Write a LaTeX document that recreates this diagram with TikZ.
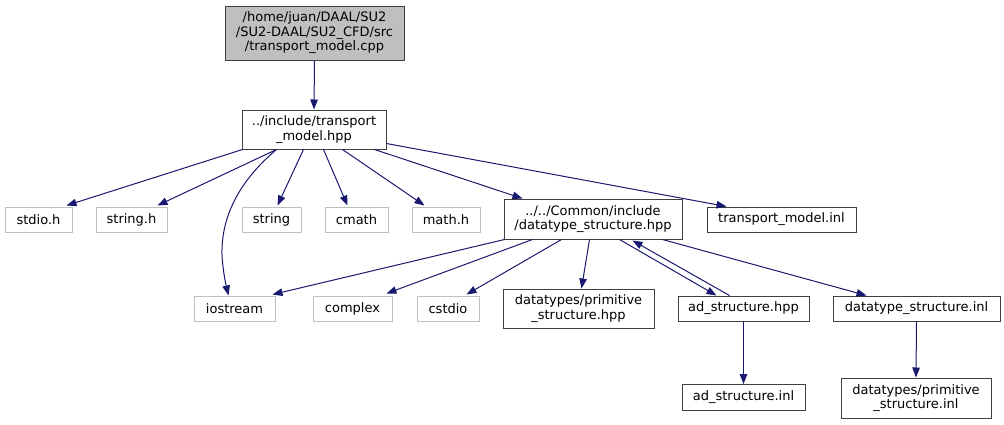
\documentclass[tikz,border=0pt]{standalone}
\usepackage{fontspec}
\setmainfont{DejaVu Sans}
\usetikzlibrary{arrows.meta,calc}
\definecolor{edgeblue}{HTML}{191970}
\definecolor{sysgray}{HTML}{BFBFBF}
\definecolor{boxdark}{HTML}{404040}
\tikzset{
  fbox/.style={draw=boxdark,line width=1pt,inner sep=0pt,align=center,font=\fontsize{13}{14.5}\selectfont},
  sysbox/.style={fbox,draw=sysgray},
  rootbox/.style={fbox,fill=sysgray},
  dep/.style={draw=edgeblue,line width=1pt,-{Triangle[length=10pt,width=7.5pt]}},
}
\begin{document}
\begin{tikzpicture}[x=1pt,y=-1pt]
\useasboundingbox (0,0) rectangle (1004,424);
\node[rootbox,minimum width=179pt,minimum height=54pt] (root) at (314.5,33) {/home/juan/DAAL/SU2\\/SU2-DAAL/SU2\_CFD/src\\/transport\_model.cpp};
\node[fbox,minimum width=144pt,minimum height=39pt] (tm) at (314,129.5) {../include/transport\\\_model.hpp};
\node[sysbox,minimum width=67pt,minimum height=25pt] (stdio) at (38.5,219.5) {stdio.h};
\node[sysbox,minimum width=71pt,minimum height=25pt] (stringh) at (131.5,219.5) {string.h};
\node[sysbox,minimum width=59pt,minimum height=25pt] (string) at (271.5,219.5) {string};
\node[sysbox,minimum width=63pt,minimum height=25pt] (cmath) at (356.5,219.5) {cmath};
\node[sysbox,minimum width=68pt,minimum height=25pt] (mathh) at (446,219.5) {math.h};
\node[fbox,minimum width=178pt,minimum height=40pt] (dt) at (593,219) {../../Common/include\\/datatype\_structure.hpp};
\node[fbox,minimum width=149pt,minimum height=25pt] (tminl) at (781.5,219.5) {transport\_model.inl};
\node[sysbox,minimum width=81pt,minimum height=25pt] (iostream) at (234.5,308.5) {iostream};
\node[sysbox,minimum width=79pt,minimum height=25pt] (complex) at (352.5,308.5) {complex};
\node[sysbox,minimum width=62pt,minimum height=25pt] (cstdio) at (448,308.5) {cstdio};
\node[fbox,minimum width=151pt,minimum height=39pt] (primhpp) at (578.5,308.5) {datatypes/primitive\\\_structure.hpp};
\node[fbox,minimum width=131pt,minimum height=25pt] (adhpp) at (743.5,308.5) {ad\_structure.hpp};
\node[fbox,minimum width=167pt,minimum height=25pt] (dtinl) at (916.5,308.5) {datatype\_structure.inl};
\node[fbox,minimum width=123pt,minimum height=26pt] (adinl) at (743.5,397.5) {ad\_structure.inl};
\node[fbox,minimum width=150pt,minimum height=40pt] (priminl) at (916,398) {datatypes/primitive\\\_structure.inl};

\draw[dep] (root.south) -- (tm.north);
\draw[dep] ($(tm.south west)+(1,0)$) -- ($(stdio.north west)+(62,-1)$);
\draw[dep] ($(tm.south west)+(35,0)$) -- ($(stringh.north west)+(62,-1)$);
\draw[dep] ($(tm.south west)+(35,0)$) .. controls (238,182) and (221,218) .. (222,255) .. controls (223,272) and (226,285) .. ($(iostream.north west)+(35,0)$);
\draw[dep] ($(tm.south west)+(62,0)$) -- ($(string.north west)+(36,-1)$);
\draw[dep] ($(tm.south west)+(82,0)$) -- ($(cmath.north west)+(23,-1)$);
\draw[dep] ($(tm.south west)+(101,0)$) -- ($(mathh.north west)+(13,-1)$);
\draw[dep] ($(tm.south west)+(133,0)$) -- ($(dt.north west)+(19,0)$);
\draw[dep] ($(tm.south east)+(0,-6)$) -- ($(tminl.north west)+(20,0)$);

\draw[dep] ($(dt.south west)+(1,0)$) -- ($(iostream.north west)+(79,-1)$);
\draw[dep] ($(dt.south west)+(29,0)$) -- ($(complex.north west)+(74,-2)$);
\draw[dep] ($(dt.south west)+(58,0)$) -- ($(cstdio.north west)+(50,-1)$);
\draw[dep] ($(dt.south west)+(86,0)$) -- ($(primhpp.north west)+(79,0)$);
\draw[dep] ($(dt.south west)+(116,0)$) -- ($(adhpp.north west)+(39,0)$);
\draw[dep] ($(adhpp.north west)+(52,0)$) -- ($(dt.south west)+(129,1)$);
\draw[dep] ($(dt.south west)+(159,0)$) -- ($(dtinl.north west)+(34,0)$);
\draw[dep] (adhpp.south) -- (adinl.north);
\draw[dep] (dtinl.south) -- (priminl.north);
\end{tikzpicture}
\end{document}
